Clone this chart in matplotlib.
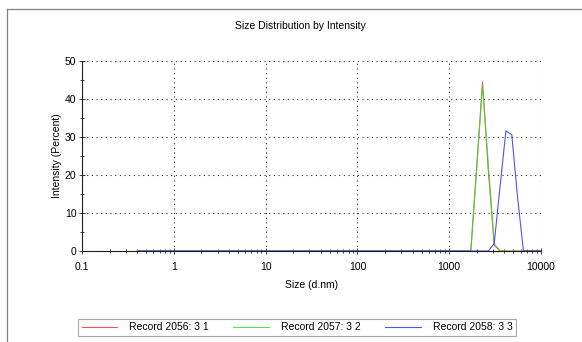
import matplotlib
matplotlib.use("Agg")
import matplotlib.pyplot as plt
from matplotlib.lines import Line2D
from matplotlib.ticker import LogLocator, MultipleLocator, FixedFormatter

plt.rcParams['font.family'] = ['Liberation Sans', 'DejaVu Sans']

# size bins (d.nm)
sizes = [0.4, 0.4632, 0.5365, 0.6213, 0.7195, 0.8332, 0.9649, 1.117, 1.294, 1.499,
         1.736, 2.01, 2.328, 2.696, 3.122, 3.615, 4.187, 4.849, 5.615, 6.503,
         7.531, 8.721, 10.1, 11.7, 13.54, 15.69, 18.17, 21.04, 24.36, 28.21,
         32.67, 37.84, 43.82, 50.75, 58.77, 68.06, 78.82, 91.28, 105.7, 122.4,
         141.8, 164.2, 190.1, 220.2, 255.0, 295.3, 342.0, 396.1, 458.7, 531.2,
         615.1, 712.4, 825.0, 955.4, 1106, 1281, 1484, 1718, 1990, 2305,
         2669, 3091, 3580, 4145, 4801, 5560, 6439, 7456, 8635, 10000]

rec_2056 = [0, 0, 0, 0, 0, 0, 0, 0, 0, 0,
            0, 0, 0, 0, 0, 0, 0, 0, 0, 0,
            0, 0, 0, 0, 0, 0, 0, 0, 0, 0,
            0, 0, 0, 0, 0, 0, 0, 0, 0, 0,
            0, 0, 0, 0, 0, 0, 0, 0, 0, 0,
            0, 0, 0, 0, 0, 0, 0, 0, 22.0, 44.5,
            21.0, 1.5, 0, 0, 0, 0, 0, 0, 0, 0]
rec_2057 = [0, 0, 0, 0, 0, 0, 0, 0, 0, 0,
            0, 0, 0, 0, 0, 0, 0, 0, 0, 0,
            0, 0, 0, 0, 0, 0, 0, 0, 0, 0,
            0, 0, 0, 0, 0, 0, 0, 0, 0, 0,
            0, 0, 0, 0, 0, 0, 0, 0, 0, 0,
            0, 0, 0, 0, 0, 0, 0, 0, 21.5, 43.6,
            22.5, 2.0, 0, 0, 0, 0, 0, 0, 0, 0]
rec_2058 = [0, 0, 0, 0, 0, 0, 0, 0, 0, 0,
            0, 0, 0, 0, 0, 0, 0, 0, 0, 0,
            0, 0, 0, 0, 0, 0, 0, 0, 0, 0,
            0, 0, 0, 0, 0, 0, 0, 0, 0, 0,
            0, 0, 0, 0, 0, 0, 0, 0, 0, 0,
            0, 0, 0, 0, 0, 0, 0, 0, 0, 0,
            0, 2.0, 17.0, 31.6, 30.6, 14.0, 0, 0, 0, 0]

labels = ['Record 2056: 3 1', 'Record 2057: 3 2', 'Record 2058: 3 3']
colors = ['#ff3030', '#30e030', '#3030ff']
x_ticks = [0.1, 1, 10, 100, 1000, 10000]
x_ticklabels = ['0.1', '1', '10', '100', '1000', '10000']

fig = plt.figure(figsize=(5.82, 3.42), dpi=100)
ax = fig.add_axes([0.1409, 0.2661, 0.7887, 0.5556])

for y, c, lab in zip([rec_2056, rec_2057, rec_2058], colors, labels):
    ax.plot(sizes, y, color=c, lw=0.8, alpha=0.85, label=lab, zorder=3)

ax.set_xscale('log')
ax.set_xlim(0.1, 10000)
ax.set_ylim(0, 50)
ax.set_xticks(x_ticks)
ax.xaxis.set_major_formatter(FixedFormatter(x_ticklabels))
ax.xaxis.set_minor_locator(LogLocator(base=10, subs=range(2, 10)))
ax.yaxis.set_major_locator(MultipleLocator(10))
ax.yaxis.set_minor_locator(MultipleLocator(5))

ax.tick_params(which='both', direction='inout', labelsize=7.5, color='#202020', width=0.6)
ax.tick_params(which='major', length=4, pad=2)
ax.tick_params(which='minor', length=3)
ax.tick_params(axis='x', which='major', pad=6)

ax.grid(True, which='major', color='#303030', lw=0.8, linestyle=(0, (1, 3.2)))
for s in ['top', 'right']:
    ax.spines[s].set_visible(False)
for s in ['left', 'bottom']:
    ax.spines[s].set_color('#202020')
    ax.spines[s].set_linewidth(0.8)

ax.set_xlabel('Size (d.nm)', fontsize=7.5, labelpad=6)
ax.set_ylabel('Intensity (Percent)', fontsize=7.5, labelpad=2)
fig.text(0.516, 0.924, 'Size Distribution by Intensity', fontsize=7.5, ha='center', va='center')

# outer frame
fig.add_artist(Line2D([7 / 582, 1], [1 - 9 / 342, 1 - 9 / 342], color='#808080', lw=0.9))
fig.add_artist(Line2D([7 / 582, 7 / 582], [0, 1 - 9 / 342], color='#808080', lw=0.9))

leg = fig.legend(loc='center', bbox_to_anchor=(0.5103, 0.0424), ncol=3, fontsize=7.5,
                 frameon=True, fancybox=False, edgecolor='#909090', handlelength=3.45,
                 handletextpad=1.15, columnspacing=2.3, borderpad=0.35, borderaxespad=0)
leg.get_frame().set_linewidth(0.8)
for h in leg.get_lines():
    h.set_linewidth(0.8)

fig.savefig('out.png', dpi=100)
